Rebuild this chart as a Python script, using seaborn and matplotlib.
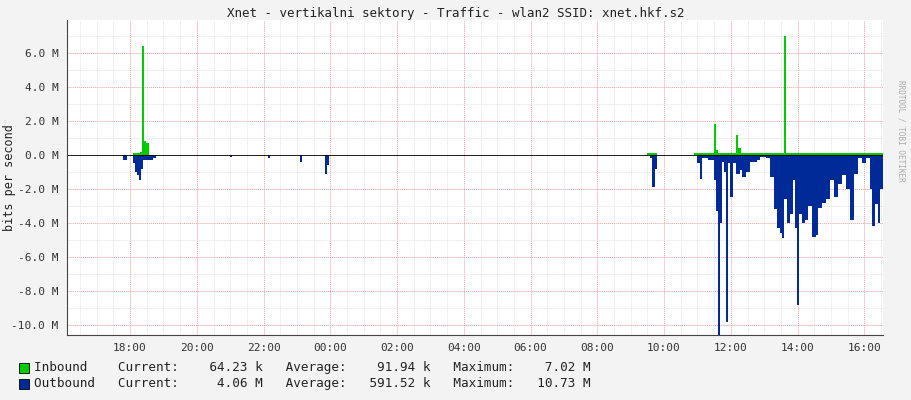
import numpy as np
import matplotlib
matplotlib.use("Agg")
import matplotlib.pyplot as plt
import seaborn as sns

# hours since 18:00, values in M bits/s
out_t = [-0.2, -0.1, 0.09, 0.15, 0.21, 0.27, 0.33, 0.4, 0.7, 0.78, 3.0, 3.06, 4.12, 4.18,
         5.1, 5.16, 5.84, 5.9, 5.96, 15.58, 15.64, 15.73, 15.8,
         16.99, 17.08, 17.14, 17.32, 17.5, 17.56, 17.62, 17.68, 17.74, 17.8, 17.86, 17.92, 17.98,
         18.07, 18.16, 18.28, 18.34, 18.46, 18.58, 18.79, 18.88, 19.06, 19.18, 19.3, 19.39,
         19.48, 19.54, 19.6, 19.69, 19.78, 19.87, 19.93, 19.99, 20.05, 20.14, 20.23, 20.32,
         20.44, 20.56, 20.62, 20.74, 20.86, 20.98, 21.1, 21.22, 21.34, 21.46, 21.58, 21.7,
         21.82, 21.94, 22.06, 22.18, 22.24, 22.33, 22.42, 22.48, 22.56]
out_v = [-0.3, 0, -0.5, -1.0, -1.2, -1.5, -0.8, -0.3, -0.2, 0, -0.1, 0, -0.15, 0,
         -0.4, 0, -1.1, -0.6, 0, -0.2, -1.9, -0.8, 0,
         -0.5, -1.4, -0.2, -0.3, -1.5, -3.3, -10.7, -4.0, -0.4, -1.0, -9.8, -0.5, -2.5,
         -0.5, -1.1, -0.9, -1.3, -1.0, -0.4, -0.3, -0.1, -0.2, -1.3, -3.2, -4.3,
         -4.6, -4.9, -2.6, -4.0, -3.5, -1.5, -4.3, -8.8, -3.5, -4.0, -3.8, -3.0,
         -4.8, -4.7, -3.1, -2.8, -2.6, -1.5, -2.5, -1.7, -1.2, -2.0, -3.8, -1.1,
         -0.2, -0.5, -0.2, -2.0, -4.2, -2.9, -4.0, -2.0, -2.0]
in_t = [0.09, 0.3, 0.36, 0.42, 0.48, 0.56, 3.0, 15.5, 15.8, 16.9, 17.5, 17.56, 17.62,
        18.16, 18.22, 18.3, 19.6, 19.66, 22.56]
in_v = [0.1, 0.2, 6.4, 0.8, 0.7, 0, 0, 0.12, 0, 0.1, 1.8, 0.3, 0.12,
        1.2, 0.4, 0.1, 7.0, 0.1, 0.1]
tick_labels = ["18:00", "20:00", "22:00", "00:00", "02:00", "04:00", "06:00",
               "08:00", "10:00", "12:00", "14:00", "16:00"]
yticks = [6, 4, 2, 0, -2, -4, -6, -8, -10]

sns.set_style("white")
plt.rcParams['font.family'] = ['DejaVu Sans Mono']
plt.rcParams['font.size'] = 8

fig = plt.figure(figsize=(9.11, 4.0), dpi=100, facecolor="#F3F3F3")
ax = fig.add_axes([67/911, 65/400, 816/911, 315/400])
ax.set_facecolor("white")

green, blue = "#00CC00", "#002A97"
ax.fill_between(out_t, out_v, 0, step="post", color=blue, lw=0)
ax.fill_between(in_t, in_v, 0, step="post", color=green, lw=0)
ax.axhline(0, color="black", lw=0.6)

ax.set_xlim(-1.89, 22.56)
ax.set_ylim(-10.59, 7.94)
xt = np.arange(0, 24, 2)
ax.set_xticks(xt)
ax.set_xticklabels(tick_labels)
ax.set_yticks(yticks)
ax.set_yticklabels([f"{v:.1f} M" for v in yticks])
ax.set_xticks(np.arange(-1.5, 22.6, 0.5), minor=True)
ax.set_yticks(np.arange(-10, 8, 1), minor=True)
ax.grid(which="minor", color="#DDDDDD", ls=(0, (1, 1)), lw=0.6)
ax.grid(which="major", color="#F0A0A0", ls=(0, (1, 1)), lw=0.7)
ax.set_axisbelow(True)
ax.tick_params(length=0, colors="#333333", pad=6)
for s in ax.spines.values():
    s.set_visible(False)
ax.spines["bottom"].set_visible(True)
ax.spines["left"].set_visible(True)
ax.spines["bottom"].set_color("#444444")
ax.spines["left"].set_color("#444444")
ax.set_ylabel("bits per second", fontsize=8.5, color="#222222")
ax.yaxis.set_label_coords(-0.062, 0.5)

fig.text(0.5, 1 - 13/400, "Xnet - vertikalni sektory - Traffic - wlan2 SSID: xnet.hkf.s2",
         ha="center", va="center", fontsize=9, color="#222222")
fig.text(901/911, 0.8, "RRDTOOL / TOBI OETIKER", rotation=270, ha="center", va="top",
         fontsize=5.5, color="#AAAAAA")

rows = [(green, "Inbound    Current:    64.23 k   Average:    91.94 k   Maximum:    7.02 M", 368),
        (blue, "Outbound   Current:     4.06 M   Average:   591.52 k   Maximum:   10.73 M", 384)]
for col, txt, ypx in rows:
    fig.patches.append(plt.Rectangle((19/911, 1 - (ypx + 5)/400), 10/911, 10/400,
                                     transform=fig.transFigure, facecolor=col,
                                     edgecolor="black", lw=0.6))
    fig.text(34/911, 1 - ypx/400, txt, va="center", fontsize=9.1, color="#222222")

fig.savefig("out.png", dpi=100, facecolor=fig.get_facecolor())
